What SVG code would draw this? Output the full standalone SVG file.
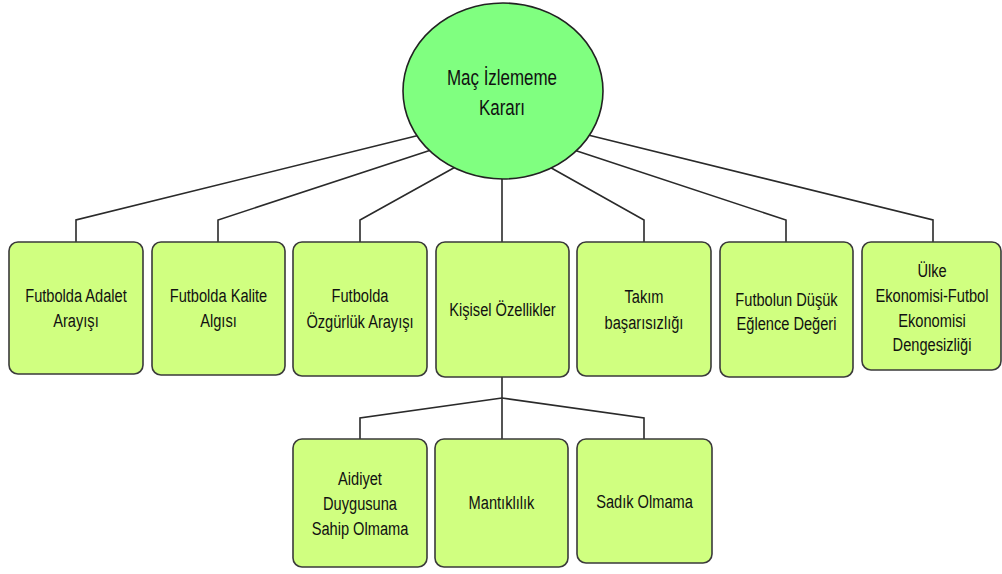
<svg xmlns="http://www.w3.org/2000/svg" width="1002" height="574" viewBox="0 0 1002 574">
<style>
.box{fill:#d0ff80;stroke:#3a3a3a;stroke-width:1.6}
.ell{fill:#80ff80;stroke:#222;stroke-width:1.6}
.con{fill:none;stroke:#2a2a2a;stroke-width:1.6}
.t{font-family:"Liberation Sans",Arial,Helvetica,sans-serif;font-size:19px;fill:#111;text-anchor:middle}
.tb{font-family:"Liberation Sans",Arial,Helvetica,sans-serif;font-size:22px;fill:#111;text-anchor:middle}
</style>
<rect width="1002" height="574" fill="#ffffff"/>
<g id="connectors">
<polyline class="con" points="420,135 76,220 76,242"/>
<polyline class="con" points="432.6,149.5 218,220 218,242"/>
<polyline class="con" points="459,165 360,220 360,242"/>
<polyline class="con" points="502,170 502,242"/>
<polyline class="con" points="546,165 644,220 644,242"/>
<polyline class="con" points="572.4,149.5 786,220 786,242"/>
<polyline class="con" points="584,134 933,220 933,242"/>
<polyline class="con" points="502,377 502,398"/>
<polyline class="con" points="502,398 360,418 360,439"/>
<polyline class="con" points="502,398 502,439"/>
<polyline class="con" points="502,398 644,418 644,439"/>
</g>
<g id="root">
<ellipse class="ell" cx="503" cy="91" rx="100" ry="88"/>
<g transform="translate(502,0) scale(0.77,1)"><text class="tb" x="0" y="85">Maç İzlememe</text><text class="tb" x="0" y="115">Kararı</text></g>
</g>
<g id="n1">
<rect class="box" x="9" y="242" width="134" height="132" rx="9"/>
<g transform="translate(76,0) scale(0.77,1)"><text class="t" x="0" y="302">Futbolda Adalet</text><text class="t" x="0" y="327">Arayışı</text></g>
</g>
<g id="n2">
<rect class="box" x="152" y="242" width="133" height="133" rx="9"/>
<g transform="translate(218.5,0) scale(0.77,1)"><text class="t" x="0" y="302">Futbolda Kalite</text><text class="t" x="0" y="327">Algısı</text></g>
</g>
<g id="n3">
<rect class="box" x="293" y="242" width="134" height="134" rx="9"/>
<g transform="translate(360,0) scale(0.77,1)"><text class="t" x="0" y="302">Futbolda</text><text class="t" x="0" y="328">Özgürlük Arayışı</text></g>
</g>
<g id="n4">
<rect class="box" x="436" y="242" width="133" height="135" rx="9"/>
<g transform="translate(502.5,0) scale(0.77,1)"><text class="t" x="0" y="316">Kişisel Özellikler</text></g>
</g>
<g id="n5">
<rect class="box" x="577" y="242" width="134" height="134" rx="9"/>
<g transform="translate(644,0) scale(0.77,1)"><text class="t" x="0" y="303">Takım</text><text class="t" x="0" y="329">başarısızlığı</text></g>
</g>
<g id="n6">
<rect class="box" x="720" y="242" width="133" height="135" rx="9"/>
<g transform="translate(786.5,0) scale(0.77,1)"><text class="t" x="0" y="306">Futbolun Düşük</text><text class="t" x="0" y="330">Eğlence Değeri</text></g>
</g>
<g id="n7">
<rect class="box" x="862" y="242" width="139" height="128" rx="9"/>
<g transform="translate(932,0) scale(0.77,1)"><text class="t" x="0" y="277">Ülke</text><text class="t" x="0" y="302">Ekonomisi-Futbol</text><text class="t" x="0" y="327">Ekonomisi</text><text class="t" x="0" y="351">Dengesizliği</text></g>
</g>
<g id="n8">
<rect class="box" x="293" y="439" width="134" height="128" rx="9"/>
<g transform="translate(360,0) scale(0.77,1)"><text class="t" x="0" y="485">Aidiyet</text><text class="t" x="0" y="510">Duygusuna</text><text class="t" x="0" y="535">Sahip Olmama</text></g>
</g>
<g id="n9">
<rect class="box" x="435" y="439" width="133" height="128" rx="9"/>
<g transform="translate(501.5,0) scale(0.77,1)"><text class="t" x="0" y="509">Mantıklılık</text></g>
</g>
<g id="n10">
<rect class="box" x="577" y="439" width="135" height="124" rx="9"/>
<g transform="translate(644.5,0) scale(0.77,1)"><text class="t" x="0" y="508">Sadık Olmama</text></g>
</g>
</svg>
